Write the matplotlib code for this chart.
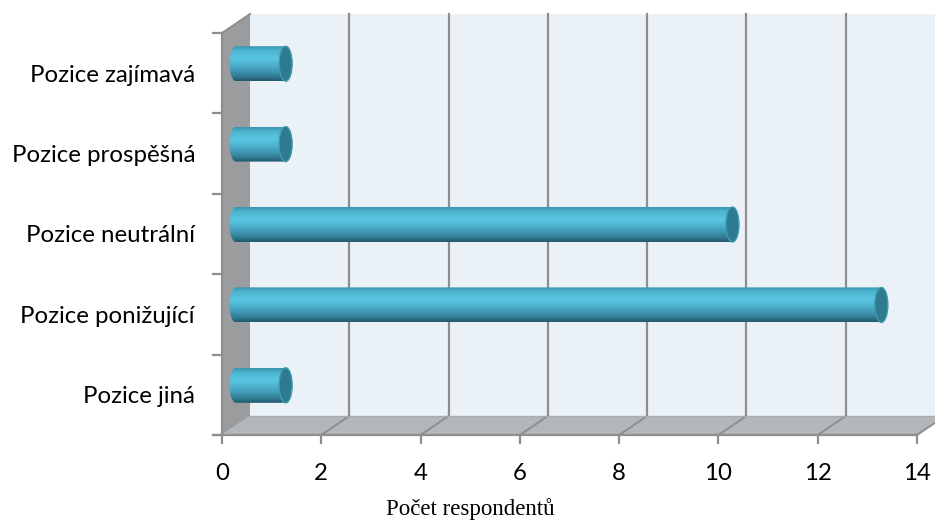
import numpy as np
import matplotlib
matplotlib.use("Agg")
import matplotlib.pyplot as plt
from matplotlib.patches import Polygon, Ellipse, Rectangle, PathPatch
from matplotlib.path import Path
from matplotlib.colors import LinearSegmentedColormap

# Survey answers (bottom to top on the chart)
categories = ["Pozice jiná", "Pozice ponižující", "Pozice neutrální",
              "Pozice prospěšná", "Pozice zajímavá"]
counts = [1, 13, 10, 1, 1]
x_ticks = [0, 2, 4, 6, 8, 10, 12, 14]
x_label = "Počet respondentů"

W, H = 935, 524
fig = plt.figure(figsize=(W / 100, H / 100), dpi=100)
ax = fig.add_axes([222 / W, (H - 435) / H, (917 - 222) / W, (435 - 33) / H])
ax.set_xlim(0, 14)
ax.set_ylim(-0.5, len(categories) - 0.5)
ax.set_axis_off()

# depth offset of the pseudo-3D box, in data units
px_x = (917 - 222) / 14.0
px_y = (435 - 33) / len(categories)
dx = 28 / px_x
dy = 19 / px_y
y0, y1 = -0.5, len(categories) - 0.5
grid_c = "#8e8e8e"

# back wall
ax.add_patch(Rectangle((dx, y0 + dy), 14, y1 - y0, facecolor="#eaf2f8",
                       edgecolor="none", clip_on=False, zorder=0))
for t in x_ticks[1:]:
    ax.plot([t + dx, t + dx], [y0 + dy, y1 + dy], color=grid_c, lw=1.6,
            clip_on=False, zorder=1)
# floor
ax.add_patch(Polygon([(0, y0), (14, y0), (14 + dx, y0 + dy), (dx, y0 + dy)],
                     closed=True, facecolor="#b4b7ba", edgecolor="none",
                     clip_on=False, zorder=1))
for t in x_ticks[1:]:
    ax.plot([t, t + dx], [y0, y0 + dy], color=grid_c, lw=1.4,
            clip_on=False, zorder=2)
ax.plot([dx, 14 + dx], [y0 + dy, y0 + dy], color="#a9acae", lw=1.0,
        clip_on=False, zorder=2)
# side wall
ax.add_patch(Polygon([(0, y0), (dx, y0 + dy), (dx, y1 + dy), (0, y1)],
                     closed=True, facecolor="#9a9c9e", edgecolor="none",
                     clip_on=False, zorder=1))
ax.plot([0, dx], [y1, y1 + dy], color=grid_c, lw=1.4, clip_on=False, zorder=2)

# axes lines and ticks
ax.plot([-9 / px_x, 14], [y0, y0], color=grid_c, lw=1.6, clip_on=False, zorder=3)
ax.plot([0, 0], [y0, y1], color=grid_c, lw=1.6, clip_on=False, zorder=3)
for t in x_ticks:
    ax.plot([t, t], [y0, y0 - 8 / px_y], color=grid_c, lw=1.6,
            clip_on=False, zorder=3)
for k in range(len(categories) + 1):
    yy = y0 + k
    ax.plot([-9 / px_x, 0], [yy, yy], color=grid_c, lw=1.6,
            clip_on=False, zorder=3)

# cylinder gradient (top to bottom)
cyl = LinearSegmentedColormap.from_list("cyl", [
    (0.00, "#3a93ad"), (0.12, "#4cb3cf"), (0.35, "#5ac6e3"),
    (0.60, "#4aa9c6"), (0.85, "#337f98"), (1.00, "#22596c")])
grad = np.linspace(0, 1, 256).reshape(-1, 1)

bar_h = 35 / px_y
cap_w = 13 / px_x
for i, v in enumerate(counts):
    yc = i + dy / 2
    xs = dx / 2
    xe = v + dx / 2
    # outline of body: left half-ellipse, straight sides, right half-ellipse
    th = np.linspace(np.pi / 2, 3 * np.pi / 2, 40)
    left = np.column_stack([xs + cap_w / 2 * np.cos(th), yc + bar_h / 2 * np.sin(th)])
    th2 = np.linspace(-np.pi / 2, np.pi / 2, 40)
    right = np.column_stack([xe + cap_w / 2 * np.cos(th2), yc + bar_h / 2 * np.sin(th2)])
    verts = np.vstack([left, right, left[:1]])
    path = Path(verts, closed=True)
    patch = PathPatch(path, facecolor="none", edgecolor="none", zorder=4)
    ax.add_patch(patch)
    im = ax.imshow(grad, cmap=cyl, aspect="auto", zorder=4,
                   extent=[xs - cap_w, xe + cap_w, yc - bar_h / 2, yc + bar_h / 2],
                   origin="upper", interpolation="bilinear")
    im.set_clip_path(patch)
    ax.add_patch(Ellipse((xe, yc), cap_w, bar_h, facecolor="#2e7a90",
                         edgecolor="#3f9ab3", lw=1.0, zorder=5))

ax.set_xlim(0, 14)
ax.set_ylim(y0, y1)

# labels sit at the category centres of the front plane
font = ["Lato", "DejaVu Sans"]
for i, name in enumerate(categories):
    ax.text(-27 / px_x, i - 2 / px_y, name, ha="right", va="center",
            fontsize=17.3, family=font, color="#000000", clip_on=False)
for t in x_ticks:
    ax.text(t, y0 - 38 / px_y, str(t), ha="center", va="center",
            fontsize=17.3, family=font, color="#000000", clip_on=False)
fig.text(470 / W, 1 - 509 / H, x_label, ha="center", va="center",
         fontsize=16.5, family=["Liberation Serif", "DejaVu Serif"], color="#000000")

fig.savefig("out.png", dpi=100, facecolor="white")
